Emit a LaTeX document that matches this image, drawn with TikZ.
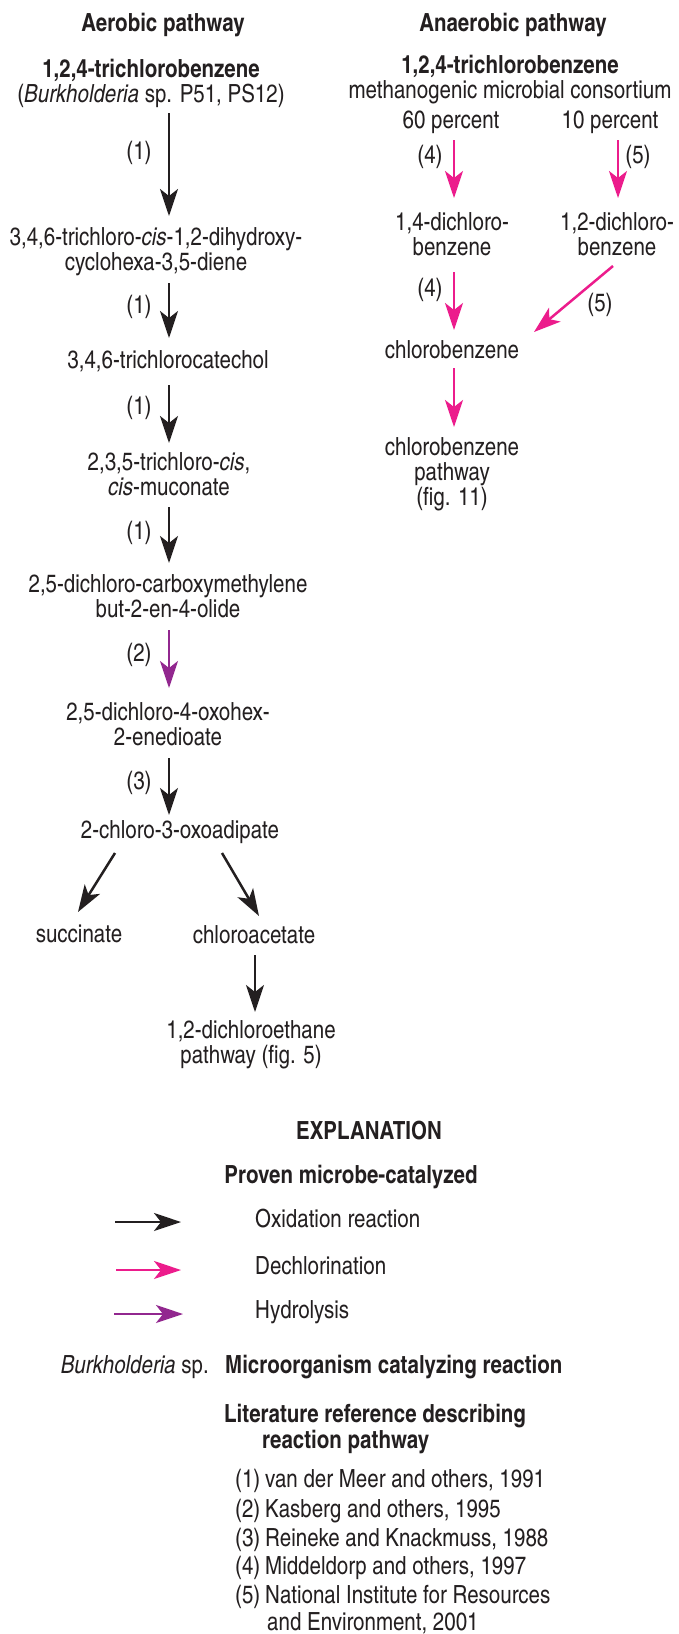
\documentclass[tikz,border=0pt]{standalone}
\usepackage{fontspec}
\setmainfont{texgyreheroscn}[Extension=.otf, UprightFont=*-regular, BoldFont=*-bold, ItalicFont=*-italic, BoldItalicFont=*-bolditalic]
\usetikzlibrary{arrows.meta,calc}
\definecolor{txt}{HTML}{231F20}
\definecolor{pinkc}{HTML}{EC1C8C}
\definecolor{purp}{HTML}{92278F}
\begin{document}
\begin{tikzpicture}[x=1pt,y=-1pt,
  every node/.style={inner sep=0pt, text=txt, font=\fontsize{25}{25}\selectfont},
  chem/.style={anchor=base, align=center},
  hdr/.style={anchor=base, font=\fontsize{25}{25}\selectfont\bfseries},
  lbl/.style={anchor=center},
  lft/.style={anchor=base west},
  oxid/.style={draw=txt, line width=2.5pt, -{Stealth[length=27pt,width=18pt,inset=7pt]}},
  dechl/.style={oxid, draw=pinkc},
  hydro/.style={oxid, draw=purp}]
\fill[white] (0,0) rectangle (679,1634);
\useasboundingbox (0,0) rectangle (679,1634);
\coordinate (cL) at (169,0);
\coordinate (cR) at (454,0);
\coordinate (cR2) at (618,0);
% ---------------- aerobic pathway (node base = baseline of last line)
\node[hdr] (hA) at (163,31) {Aerobic pathway};
\node[chem] (tcbL) at (151,102) {\textbf{1,2,4-trichlorobenzene}\\(\textit{Burkholderia} sp. P51, PS12)};
\node[chem] (n1) at (156,270) {3,4,6-trichloro-\textit{cis}-1,2-dihydroxy-\\cyclohexa-3,5-diene};
\node[chem] (n2) at (168,368) {3,4,6-trichlorocatechol};
\node[chem] (n3) at (169,495) {2,3,5-trichloro-\textit{cis},\\\textit{cis}-muconate};
\node[chem] (n4) at (168,617) {2,5-dichloro-carboxymethylene\\but-2-en-4-olide};
\node[chem] (n5) at (168,745) {2,5-dichloro-4-oxohex-\\2-enedioate};
\node[chem] (n6) at (180,838) {2-chloro-3-oxoadipate};
\node[chem] (n7) at (79,942) {succinate};
\node[chem] (n8) at (254,943) {chloroacetate};
\node[chem] (n9) at (251,1063) {1,2-dichloroethane\\pathway (fig. 5)};

\draw[oxid] ($(tcbL.base -| cL)+(0,11)$) -- ($(n1.base -| cL)+(0,-54)$);
\draw[oxid] ($(n1.base -| cL)+(0,13)$) -- ($(n2.base -| cL)+(0,-30)$);
\draw[oxid] ($(n2.base -| cL)+(0,17)$) -- ($(n3.base -| cL)+(0,-52)$);
\draw[oxid] ($(n3.base -| cL)+(0,12)$) -- ($(n4.base -| cL)+(0,-54)$);
\draw[hydro] ($(n4.base -| cL)+(0,13)$) -- ($(n5.base -| cL)+(0,-57)$);
\draw[oxid] ($(n5.base -| cL)+(0,13)$) -- ($(n6.base -| cL)+(0,-23)$);
\draw[oxid] ($(n6.base)+(-65,15)$) -- ($(n7.base)+(-1,-30)$);
\draw[oxid] ($(n6.base)+(42,15)$) -- ($(n8.base)+(5,-27)$);
\draw[oxid] ($(n8.base)+(1,12)$) -- ($(n9.base)+(4,-51)$);

\node[lbl] (l1) at (139,153) {(1)};
\node[lbl] (l2) at (139,307) {(1)};
\node[lbl] (l3) at (139,408) {(1)};
\node[lbl] (l4) at (139,533) {(1)};
\node[lbl] (l5) at (139,655) {(2)};
\node[lbl] (l6) at (139,783) {(3)};

% ---------------- anaerobic pathway
\node[hdr] (hB) at (513,31) {Anaerobic pathway};
\node[chem] (r0) at (510,98) {\textbf{1,2,4-trichlorobenzene}\\methanogenic microbial consortium};
\node[chem] (r60) at (451,128) {60 percent};
\node[chem] (r10) at (610,128) {10 percent};
\node[chem] (r14) at (452,255) {1,4-dichloro-\\benzene};
\node[chem] (r12) at (617,255) {1,2-dichloro-\\benzene};
\node[chem] (rcb) at (452,358) {chlorobenzene};
\node[chem] (rp) at (452,505) {chlorobenzene\\pathway\\(fig. 11)};

\draw[dechl] ($(r60.base -| cR)+(0,12)$) -- ($(r14.base -| cR)+(0,-57)$);
\draw[dechl] ($(r10.base -| cR2)+(0,12)$) -- ($(r12.base -| cR2)+(0,-57)$);
\draw[dechl] ($(r14.base -| cR)+(0,17)$) -- ($(rcb.base -| cR)+(0,-28)$);
\draw[dechl] ($(r12.base)+(-4,11)$) -- ($(rcb.base)+(82,-26)$);
\draw[dechl] ($(rcb.base -| cR)+(0,10)$) -- ($(rp.base -| cR)+(0,-78)$);

\node[lbl] (m1) at (430,157) {(4)};
\node[lbl] (m2) at (638,157) {(5)};
\node[lbl] (m3) at (430,290) {(4)};
\node[lbl] (m4) at (600,305) {(5)};

% ---------------- explanation
\node[hdr] (ex) at (369,1139) {EXPLANATION};
\node[hdr] (pv) at (351,1183) {Proven microbe-catalyzed};
\node[lft] (kt1) at (255,1227) {Oxidation reaction};
\node[lft] (kt2) at (255,1274) {Dechlorination};
\node[lft] (kt3) at (255,1318) {Hydrolysis};
\coordinate (k1a) at (115,1222); \coordinate (k1b) at (181,1222);
\coordinate (k2a) at (116,1270); \coordinate (k2b) at (181,1270);
\coordinate (k3a) at (114,1314); \coordinate (k3b) at (183,1314);
\draw[oxid] (k1a) -- (k1b);
\draw[dechl] (k2a) -- (k2b);
\draw[hydro] (k3a) -- (k3b);
\node[anchor=base east] (bk) at (209,1373) {\textit{Burkholderia} sp.};
\node[lft, font=\fontsize{25}{25}\selectfont\bfseries] (mo) at (225,1373) {Microorganism catalyzing reaction};
\node[lft, font=\fontsize{25}{25}\selectfont\bfseries] (lr1) at (224,1422) {Literature reference describing};
\node[lft, font=\fontsize{25}{25}\selectfont\bfseries] (lr2) at (262,1448) {reaction pathway};
\node[lft] (q1) at (235,1487) {(1)};
\node[lft] (t1) at (265,1487) {van der Meer and others, 1991};
\node[lft] (q2) at (235,1517) {(2)};
\node[lft] (t2) at (265,1517) {Kasberg and others, 1995};
\node[lft] (q3) at (235,1546) {(3)};
\node[lft] (t3) at (265,1546) {Reineke and Knackmuss, 1988};
\node[lft] (q4) at (235,1574) {(4)};
\node[lft] (t4) at (265,1574) {Middeldorp and others, 1997};
\node[lft] (q5) at (235,1603) {(5)};
\node[lft] (t5) at (265,1603) {National Institute for Resources};
\node[lft] (t6) at (267,1630) {and Environment, 2001};
\end{tikzpicture}
\end{document}
